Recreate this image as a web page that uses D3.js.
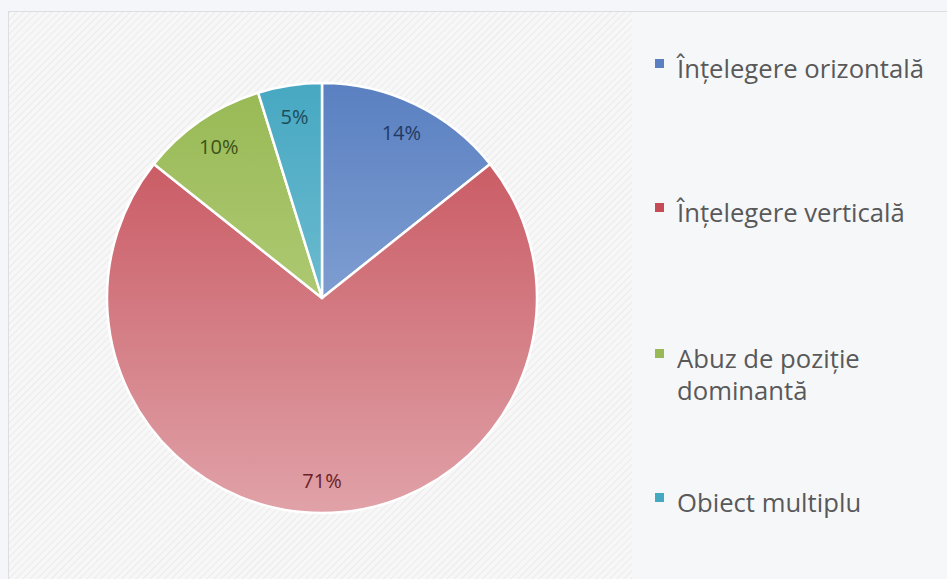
<!DOCTYPE html>
<html>
<head>
<meta charset="utf-8">
<script src="https://cdn.jsdelivr.net/npm/d3@7"></script>
<style>
  body { margin: 0; background: #f4f6f9; }
  svg { display: block; }
</style>
</head>
<body>
<div id="chart"></div>
<script>
var categories = ["Înțelegere orizontală", "Înțelegere verticală", "Abuz de poziție dominantă", "Obiect multiplu"];
// shares in percent, labels show them rounded
var values = [14.3, 71.4, 9.5, 4.8];
var legendLines = [["Înțelegere orizontală"], ["Înțelegere verticală"], ["Abuz de poziție", "dominantă"], ["Obiect multiplu"]];
var topColors = ["#5a80c1", "#c54c56", "#98b955", "#47a8c2"];
var bottomColors = ["#a2bbe2", "#e0a2a8", "#c2d98e", "#8fcddd"];
var labelColors = ["#1f3a64", "#6a2128", "#3c5218", "#1c4c5a"];

var width = 947, height = 579;
var cx = 322, cy = 298, radius = 215;

var svg = d3.select("#chart").append("svg")
    .attr("width", width)
    .attr("height", height);

var defs = svg.append("defs");

// faint diagonal hatch for the plot area
var pat = defs.append("pattern")
    .attr("id", "hatch")
    .attr("patternUnits", "userSpaceOnUse")
    .attr("width", 5).attr("height", 5)
    .attr("patternTransform", "rotate(45)");
pat.append("rect").attr("width", 5).attr("height", 5).attr("fill", "#f7f7f7");
pat.append("line").attr("x1", 0).attr("y1", 0).attr("x2", 0).attr("y2", 5)
    .attr("stroke", "#ebebeb").attr("stroke-width", 2);

categories.forEach(function(c, i){
    var g = defs.append("linearGradient")
        .attr("id", "grad" + i)
        .attr("gradientUnits", "userSpaceOnUse")
        .attr("x1", 0).attr("y1", -radius)
        .attr("x2", 0).attr("y2", radius);
    g.append("stop").attr("offset", "0%").attr("stop-color", topColors[i]);
    g.append("stop").attr("offset", "100%").attr("stop-color", bottomColors[i]);
});

// chart area and plot area
svg.append("rect")
    .attr("x", 8.5).attr("y", 11.5)
    .attr("width", width).attr("height", height)
    .attr("fill", "#f6f7f9")
    .attr("stroke", "#dcdee2");
svg.append("rect")
    .attr("x", 9).attr("y", 12)
    .attr("width", 623).attr("height", height)
    .attr("fill", "url(#hatch)");

var pie = d3.pie().sort(null).value(function(d){ return d; });
var arc = d3.arc().innerRadius(0).outerRadius(radius);
var labelArc = d3.arc().innerRadius(radius * 0.85).outerRadius(radius * 0.85);

var g = svg.append("g").attr("transform", "translate(" + cx + "," + cy + ")");

var arcs = pie(values);

g.selectAll(".slice")
    .data(arcs).enter().append("path")
    .attr("class", "slice")
    .attr("d", arc)
    .attr("fill", function(d, i){ return "url(#grad" + i + ")"; })
    .attr("stroke", "#ffffff")
    .attr("stroke-width", 2.5)
    .attr("stroke-linejoin", "round");

g.selectAll(".lbl")
    .data(arcs).enter().append("text")
    .attr("class", "lbl")
    .attr("transform", function(d){ return "translate(" + labelArc.centroid(d) + ")"; })
    .attr("text-anchor", "middle")
    .attr("dy", "0.35em")
    .attr("font-family", "'Open Sans', sans-serif")
    .attr("font-size", 20)
    .attr("fill", function(d, i){ return labelColors[i]; })
    .text(function(d){ return Math.round(d.data) + "%"; });

// legend
var legendY = [78, 222, 368, 512];
var legend = svg.append("g");
var texts = [];
legendLines.forEach(function(lines, i){
    legend.append("rect")
        .attr("x", 655).attr("y", legendY[i] - 19)
        .attr("width", 9).attr("height", 9)
        .attr("fill", topColors[i]);
    var t = legend.append("text")
        .attr("x", 677).attr("y", legendY[i])
        .attr("font-family", "'Open Sans', sans-serif")
        .attr("font-size", 20)
        .attr("fill", "#595959");
    lines.forEach(function(l, j){
        t.append("tspan").attr("x", 677).attr("dy", j === 0 ? 0 : 32).text(l);
    });
    texts.push(t);
});

// size legend font so the first entry is as wide as in the original (~247px)
var w = texts[0].node().getComputedTextLength();
var fs = 20 * 247 / w;
texts.forEach(function(t){ t.attr("font-size", fs); });
</script>
</body>
</html>
